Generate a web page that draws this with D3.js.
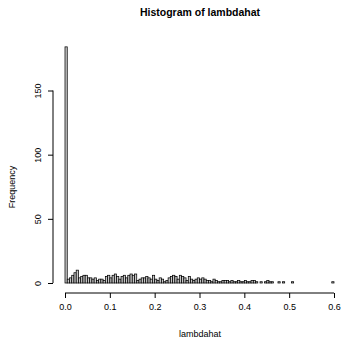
<!DOCTYPE html>
<meta charset="utf-8">
<script src="https://d3js.org/d3.v7.min.js"></script>
<style>
  body { margin: 0; background: #fff; }
  text { font-family: "Liberation Sans", Arial, sans-serif; }
</style>
<div id="hist"></div>
<script>
// bin edges: 0 to 0.6 in steps of 0.005
var binWidth = 0.005;
var counts = [
  184, 3, 4, 6, 8, 10, 4, 5, 6, 6,
  4, 4, 3, 4, 2, 3, 3, 2, 5, 6,
  4, 6, 7, 5, 3, 5, 6, 4, 6, 7,
  6, 7, 2, 3, 4, 4, 5, 4, 3, 6,
  3, 2, 4, 3, 1, 2, 4, 5, 6, 5,
  3, 6, 5, 4, 2, 5, 3, 2, 3, 4,
  3, 4, 3, 2, 2, 1, 3, 2, 1, 1,
  2, 2, 2, 1, 2, 1, 1, 2, 1, 1,
  2, 1, 1, 2, 2, 1, 0, 1, 0, 1,
  2, 1, 1, 0, 0, 1, 0, 1, 0, 0,
  0, 1, 0, 0, 0, 0, 0, 0, 0, 0,
  0, 0, 0, 0, 0, 0, 0, 0, 0, 1
];
var xTicks = [0, 0.1, 0.2, 0.3, 0.4, 0.5, 0.6];
var yTicks = [0, 50, 100, 150];

var W = 342, H = 340;
var svg = d3.select("#hist").append("svg")
  .attr("width", W).attr("height", H);

var x = d3.scaleLinear().domain([0, 0.6]).range([65, 334]);
var y = d3.scaleLinear().domain([0, 150]).range([283, 90.5]);

// bars
svg.append("g").selectAll("rect")
  .data(counts)
  .enter().append("rect")
    .attr("x", function(d, i) { return x(i * binWidth); })
    .attr("width", function(d, i) { return x((i + 1) * binWidth) - x(i * binWidth); })
    .attr("y", function(d) { return y(d); })
    .attr("height", function(d) { return y(0) - y(d); })
    .attr("fill", "#c8c8c8")
    .attr("stroke", "#000")
    .attr("stroke-width", 0.75);

// x axis
var xAxis = svg.append("g")
  .attr("transform", "translate(0,293)")
  .call(d3.axisBottom(x).tickValues(xTicks).tickFormat(d3.format(".1f")).tickSize(5).tickSizeOuter(0));
xAxis.select(".domain").attr("d", "M" + x(0) + ",0H" + x(0.6));
xAxis.selectAll("text").attr("font-size", 9).attr("font-family", "Liberation Sans, Arial, sans-serif").attr("dy", "1.05em");

// y axis
var yAxis = svg.append("g")
  .attr("transform", "translate(53,0)")
  .call(d3.axisLeft(y).tickValues(yTicks).tickSize(5).tickSizeOuter(0));
yAxis.select(".domain").attr("d", "M0," + y(0) + "V" + y(150));
yAxis.selectAll("text")
  .attr("font-size", 9).attr("font-family", "Liberation Sans, Arial, sans-serif")
  .attr("text-anchor", "middle")
  .attr("x", null).attr("y", null).attr("dy", "0.35em")
  .attr("transform", "translate(-15,0) rotate(-90)");

// labels
svg.append("text")
  .attr("x", 200).attr("y", 16)
  .attr("text-anchor", "middle")
  .attr("font-size", 10.5).attr("font-weight", "bold")
  .text("Histogram of lambdahat");

svg.append("text")
  .attr("x", 200).attr("y", 337)
  .attr("text-anchor", "middle")
  .attr("font-size", 9)
  .text("lambdahat");

svg.append("text")
  .attr("transform", "translate(15,187) rotate(-90)")
  .attr("text-anchor", "middle")
  .attr("font-size", 9)
  .text("Frequency");
</script>
